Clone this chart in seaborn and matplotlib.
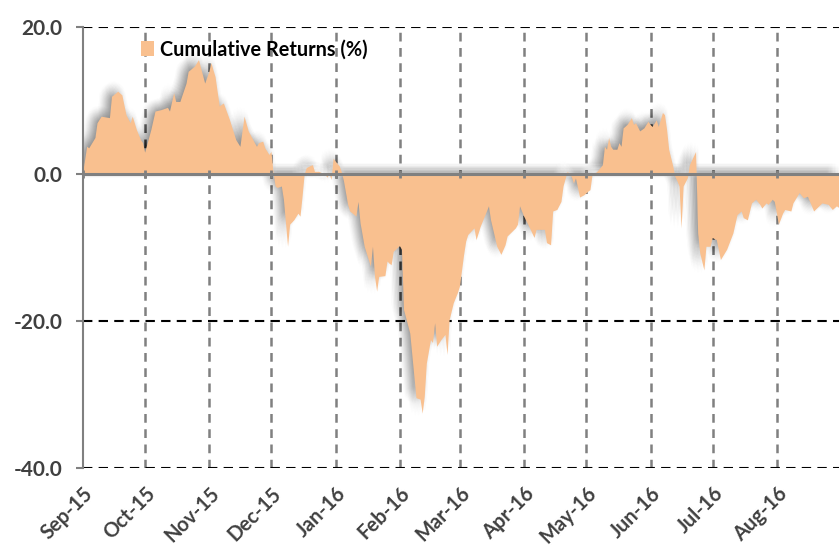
import matplotlib
matplotlib.use("Agg")
import math
import matplotlib.pyplot as plt
import matplotlib.patheffects as pe
from matplotlib.patches import Patch
import seaborn as sns
import pandas as pd

# ---------------- data ----------------
dates = [
    "2015-09-01", "2015-09-03", "2015-09-04", "2015-09-07", "2015-09-08", "2015-09-10",
    "2015-09-14", "2015-09-15", "2015-09-18", "2015-09-20", "2015-09-22", "2015-09-24",
    "2015-09-25", "2015-09-27", "2015-09-29", "2015-09-30",
    "2015-10-01", "2015-10-04", "2015-10-06", "2015-10-09", "2015-10-12", "2015-10-13",
    "2015-10-15", "2015-10-16", "2015-10-18", "2015-10-21", "2015-10-22", "2015-10-25",
    "2015-10-27", "2015-10-28", "2015-10-30",
    "2015-11-01", "2015-11-02", "2015-11-03", "2015-11-04", "2015-11-06", "2015-11-08",
    "2015-11-11", "2015-11-14", "2015-11-16", "2015-11-18", "2015-11-20", "2015-11-23",
    "2015-11-24", "2015-11-25", "2015-11-27", "2015-11-28", "2015-11-30",
    "2015-12-01", "2015-12-02", "2015-12-03", "2015-12-04", "2015-12-06", "2015-12-07",
    "2015-12-09", "2015-12-10", "2015-12-12", "2015-12-14", "2015-12-15", "2015-12-16",
    "2015-12-17", "2015-12-18", "2015-12-20", "2015-12-21", "2015-12-22", "2015-12-24",
    "2015-12-27", "2015-12-28", "2015-12-29", "2015-12-30", "2015-12-31",
    "2016-01-01", "2016-01-03", "2016-01-04", "2016-01-05", "2016-01-07", "2016-01-08",
    "2016-01-11", "2016-01-12", "2016-01-13", "2016-01-15", "2016-01-17", "2016-01-18",
    "2016-01-19", "2016-01-20", "2016-01-21", "2016-01-22", "2016-01-25", "2016-01-26",
    "2016-01-27", "2016-01-28", "2016-01-29",
    "2016-02-01", "2016-02-02", "2016-02-03", "2016-02-06", "2016-02-08", "2016-02-09",
    "2016-02-11", "2016-02-12", "2016-02-13", "2016-02-14", "2016-02-16", "2016-02-17",
    "2016-02-18", "2016-02-19", "2016-02-21", "2016-02-23", "2016-02-24", "2016-02-25",
    "2016-02-27", "2016-02-29",
    "2016-03-01", "2016-03-03", "2016-03-04", "2016-03-05", "2016-03-08", "2016-03-09",
    "2016-03-11", "2016-03-15", "2016-03-16", "2016-03-19", "2016-03-21", "2016-03-23",
    "2016-03-24", "2016-03-28", "2016-03-29", "2016-03-30",
    "2016-04-01", "2016-04-03", "2016-04-06", "2016-04-07", "2016-04-11", "2016-04-12",
    "2016-04-14", "2016-04-15", "2016-04-17", "2016-04-19", "2016-04-20", "2016-04-22",
    "2016-04-24", "2016-04-25", "2016-04-26", "2016-04-28", "2016-04-30",
    "2016-05-02", "2016-05-03", "2016-05-04", "2016-05-06", "2016-05-07", "2016-05-09",
    "2016-05-10", "2016-05-11", "2016-05-12", "2016-05-13", "2016-05-14", "2016-05-16",
    "2016-05-17", "2016-05-18", "2016-05-19", "2016-05-21", "2016-05-23", "2016-05-24",
    "2016-05-25", "2016-05-27", "2016-05-29", "2016-05-31",
    "2016-06-01", "2016-06-02", "2016-06-04", "2016-06-05", "2016-06-07", "2016-06-08",
    "2016-06-09", "2016-06-10", "2016-06-12", "2016-06-13", "2016-06-14", "2016-06-15",
    "2016-06-16", "2016-06-17", "2016-06-19", "2016-06-20", "2016-06-22", "2016-06-23",
    "2016-06-24", "2016-06-25", "2016-06-27", "2016-06-28", "2016-06-30",
    "2016-07-01", "2016-07-03", "2016-07-05", "2016-07-08", "2016-07-11", "2016-07-13",
    "2016-07-15", "2016-07-16", "2016-07-18", "2016-07-20", "2016-07-22", "2016-07-24",
    "2016-07-25", "2016-07-27", "2016-07-28", "2016-07-30", "2016-07-31",
    "2016-08-02", "2016-08-04", "2016-08-05", "2016-08-08", "2016-08-09", "2016-08-12",
    "2016-08-14", "2016-08-16", "2016-08-19", "2016-08-23", "2016-08-26", "2016-08-28",
    "2016-08-30", "2016-08-31",
]
cum_returns = [
    0.0, 3.7, 3.5, 4.9, 6.9, 7.8,
    7.6, 10.5, 11.2, 10.7, 8.0, 6.9,
    7.8, 6.0, 4.6, 4.2,
    2.9, 6.0, 8.5, 8.7, 9.0, 8.5,
    11.0, 9.8, 9.8, 12.3, 13.9, 14.6,
    15.5, 14.4, 12.3,
    13.9, 15.1, 14.1, 13.2, 9.2, 9.6,
    7.3, 4.6, 3.7, 7.8, 5.8, 4.2,
    3.7, 4.2, 4.4, 3.5, 2.6,
    3.0, 0.1, -1.7, -1.9, -1.7, -3.5,
    -9.9, -6.9, -6.3, -5.4, -5.8, -3.1,
    -0.1, 0.8, 1.1, 1.2, 0.3, 0.3,
    -0.1, -0.5, 0.0, -0.8, 2.1,
    1.7, 1.0, 0.2, -1.0, -4.2, -5.1,
    -5.8, -3.8, -6.7, -9.9, -11.7, -12.6,
    -9.9, -14.0, -16.0, -14.0, -13.9, -11.9,
    -12.2, -12.4, -10.6,
    -9.8, -10.3, -18.5, -21.7, -27.6, -30.5,
    -30.7, -32.6, -30.3, -25.8, -22.6, -23.0,
    -20.3, -23.5, -22.6, -21.9, -24.6, -19.9,
    -17.6, -16.2,
    -15.3, -11.0, -9.2, -8.3, -7.4, -9.0,
    -7.2, -4.4, -6.3, -9.9, -11.0, -9.7,
    -8.5, -7.4, -6.9, -4.4,
    -5.8, -6.9, -8.7, -7.6, -7.6, -9.4,
    -9.7, -5.1, -4.9, -3.8, -1.7, 0.3,
    -0.4, -1.3, -0.6, -3.2, -2.9,
    -2.4, -2.2, -0.1, 0.2, 0.5, 1.2,
    3.7, 3.3, 4.9, 3.7, 3.3, 3.3,
    4.2, 3.7, 6.2, 6.7, 7.6, 6.7,
    6.9, 5.8, 6.2, 7.1,
    6.7, 6.4, 7.3, 6.4, 8.3, 8.0,
    6.0, 3.3, 1.0, -0.4, -1.0, -1.7,
    -7.4, -1.7, -0.6, 1.2, 2.4, 3.0,
    -8.1, -10.8, -13.1, -9.9, -9.9,
    -8.7, -9.0, -11.7, -10.3, -8.1, -5.6,
    -5.1, -6.0, -6.3, -4.0, -3.5, -4.2,
    -4.7, -4.0, -4.2, -3.5, -3.8,
    -6.9, -5.4, -4.9, -5.1, -4.0, -2.6,
    -3.3, -3.1, -5.1, -4.0, -4.2, -4.9,
    -4.4, -4.6,
]
month_starts = ["2015-09-01", "2015-10-01", "2015-11-01", "2015-12-01", "2016-01-01",
                "2016-02-01", "2016-03-01", "2016-04-01", "2016-05-01", "2016-06-01",
                "2016-07-01", "2016-08-01"]
month_labels = ["Sep-15", "Oct-15", "Nov-15", "Dec-15", "Jan-16", "Feb-16",
                "Mar-16", "Apr-16", "May-16", "Jun-16", "Jul-16", "Aug-16"]
y_ticks = [20, 0, -20, -40]
y_labels = ["20.0", "0.0", "-20.0", "-40.0"]
series_name = "Cumulative Returns (%)"

# ---------------- style ----------------
FILL = "#F9C08F"
GRAY = "#808080"
TEXT = "#404040"

sns.set_theme(style="white")
plt.rcParams["font.family"] = ["Lato", "DejaVu Sans"]

df = pd.DataFrame({"date": pd.to_datetime(dates), "ret": cum_returns})
ticks = pd.to_datetime(month_starts)

fig = plt.figure(figsize=(8.39, 5.48), dpi=100)
ax = fig.add_axes([83 / 839, 80 / 548, 756 / 839, 441 / 548])

# gridlines (behind the area)
for t in ticks[1:]:
    ax.axvline(t, color=GRAY, lw=1.8, ls=(0, (3.5, 2.6)), zorder=1)
for yv in y_ticks:
    if yv != 0:
        ax.axhline(yv, color="black", lw=1.5, ls=(0, (4.5, 3)), zorder=1)

# area with soft (blurred) shadow built from many faint offset copies
shadow = []
cx, cy, sig = -3.5, 2.5, 4.4
for dx in range(-15, 9):
    for dy in range(-9, 14):
        w = math.exp(-((dx - cx) ** 2 + (dy - cy) ** 2) / (2 * sig ** 2))
        if w > 0.06:
            shadow.append(pe.SimplePatchShadow(offset=(dx, dy), shadow_rgbFace="black",
                                               alpha=0.0048 * w))
shadow.append(pe.Normal())
sns.lineplot(data=df, x="date", y="ret", ax=ax, color=FILL, linewidth=0, zorder=2)
ax.fill_between(df["date"], df["ret"], 0, color=FILL, linewidth=0, zorder=2,
                path_effects=shadow)

# zero axis line on top
ax.axhline(0, color=GRAY, lw=2.2, zorder=4)
ax.vlines(ticks, -0.5, 0.5, color=GRAY, lw=2, zorder=5)

ax.set_xlim(pd.Timestamp("2015-09-01"), pd.Timestamp("2016-08-31"))
ax.set_ylim(-40, 20)
ax.set_yticks(y_ticks)
ax.set_yticklabels(y_labels, fontsize=15, fontweight="bold", color=TEXT)
ax.set_xticks(ticks)
ax.set_xticklabels(month_labels, rotation=45, ha="right", rotation_mode="anchor",
                   fontsize=14.5, fontweight="bold", color=TEXT)
ax.tick_params(axis="y", length=5, width=1.5, color=GRAY, pad=10, left=True)
ax.tick_params(axis="x", length=0, pad=11)
ax.set_xlabel("")
ax.set_ylabel("")

for s in ["top", "right", "bottom"]:
    ax.spines[s].set_visible(False)
ax.spines["left"].set_color(GRAY)
ax.spines["left"].set_linewidth(1.5)
ax.spines["left"].set_zorder(5)

handle = Patch(facecolor=FILL, edgecolor="none")
leg = ax.legend([handle], [series_name], loc="upper left",
                bbox_to_anchor=(0.066, 0.99), frameon=False,
                handlelength=0.65, handleheight=0.8, handletextpad=0.3,
                borderaxespad=0, prop={"weight": "bold", "size": 14.3})
for txt in leg.get_texts():
    txt.set_color("black")

fig.savefig("out.png", dpi=100)
